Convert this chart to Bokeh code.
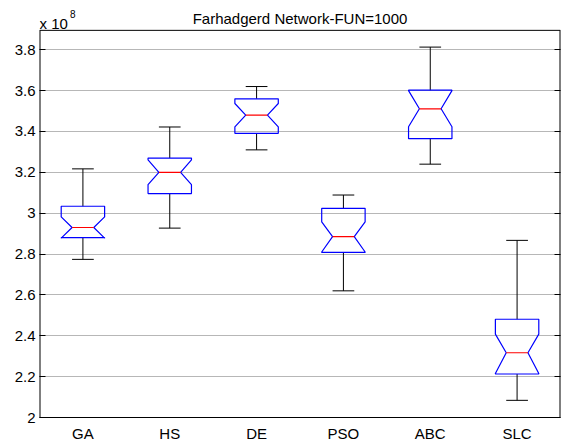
from bokeh.plotting import figure
from bokeh.models import Range1d, LinearAxis, FixedTicker, Label, Grid, CustomJSTickFormatter
from bokeh.embed import file_html
from bokeh.resources import INLINE

# values in units of 1e8
categories = ["GA", "HS", "DE", "PSO", "ABC", "SLC"]
lower_whisker = [2.774, 2.927, 3.310, 2.620, 3.240, 2.084]
q1 = [2.880, 3.096, 3.391, 2.808, 3.365, 2.213]
median = [2.930, 3.200, 3.480, 2.885, 3.511, 2.317]
q3 = [3.034, 3.270, 3.560, 3.024, 3.602, 2.481]
upper_whisker = [3.217, 3.422, 3.620, 3.089, 3.813, 2.867]
notch_lo = [2.878, 3.140, 3.423, 2.810, 3.423, 2.215]
notch_hi = [2.982, 3.261, 3.537, 2.958, 3.600, 2.408]
y_ticks = [2.0, 2.2, 2.4, 2.6, 2.8, 3.0, 3.2, 3.4, 3.6, 3.8]
y_tick_labels = ["2", "2.2", "2.4", "2.6", "2.8", "3", "3.2", "3.4", "3.6", "3.8"]
title_text = "Farhadgerd Network-FUN=1000"

FONT = "Liberation Sans"
W, H = 566, 444
X0, X1 = 0.5, 6.5          # axes x limits
Y0, Y1 = 2.0, 3.895        # axes y limits
AX_TOP_PX = 30             # space above the axes box (title area)
BOTTOM_PX = 25
k = (H - BOTTOM_PX - AX_TOP_PX) / (Y1 - Y0)   # px per data unit (y)
y_top = Y1 + AX_TOP_PX / k                  # the frame also covers the title strip
kx = (W - 39 - 6) / (X1 - X0)

p = figure(width=W, height=H, output_backend="svg", toolbar_location=None,
           x_range=Range1d(X0, X1), y_range=Range1d(Y0, y_top),
           min_border_left=39, min_border_right=6, min_border_top=0,
           min_border_bottom=BOTTOM_PX, background_fill_color="white",
           border_fill_color="white", x_axis_location=None, y_axis_location=None)
p.outline_line_color = None
p.xgrid.visible = False
p.ygrid.visible = False

xs = list(range(1, len(categories) + 1))
bw, nw = 0.25, 0.125

left = LinearAxis(ticker=FixedTicker(ticks=y_ticks),
                  major_label_overrides={t: l for t, l in zip(y_ticks, y_tick_labels)},
                  major_tick_in=6, major_tick_out=0, minor_tick_line_color=None,
                  major_tick_line_color="black",
                  major_label_text_font=FONT, major_label_text_font_size="15px",
                  major_label_text_color="black", major_label_standoff=4,
                  axis_line_color=None)
p.add_layout(left, "left")
right = LinearAxis(ticker=FixedTicker(ticks=y_ticks), major_tick_in=6, major_tick_out=0,
                   minor_tick_line_color=None, major_tick_line_color="black",
                   formatter=CustomJSTickFormatter(code="return '';"),
                   major_label_standoff=0, axis_line_color=None)
p.add_layout(right, "right")
bottom = LinearAxis(ticker=FixedTicker(ticks=xs),
                    major_label_overrides={x: c for x, c in zip(xs, categories)},
                    major_tick_in=0, major_tick_out=0, minor_tick_line_color=None,
                    major_label_text_font=FONT, major_label_text_font_size="15px",
                    major_label_text_color="black", major_label_standoff=7,
                    axis_line_color="black")
p.add_layout(bottom, "below")
g = Grid(dimension=1, ticker=FixedTicker(ticks=y_ticks[1:]), grid_line_color="#6e6e6e",
         grid_line_dash="1 1", grid_line_width=1)
p.add_layout(g)

# axes box (left/right edges sit on the frame edge, so a 2px line shows 1px)
p.segment(x0=[X0, X1], y0=[Y0, Y0], x1=[X0, X1], y1=[Y1, Y1], line_color="black", line_width=2)
p.segment(x0=[X0], y0=[Y1], x1=[X1], y1=[Y1], line_color="black", line_width=1)

# whiskers
p.segment(x0=xs, y0=q3, x1=xs, y1=upper_whisker, line_color="black", line_width=1)
p.segment(x0=xs, y0=lower_whisker, x1=xs, y1=q1, line_color="black", line_width=1)
p.segment(x0=[x - nw for x in xs], y0=upper_whisker, x1=[x + nw for x in xs],
          y1=upper_whisker, line_color="black", line_width=1)
p.segment(x0=[x - nw for x in xs], y0=lower_whisker, x1=[x + nw for x in xs],
          y1=lower_whisker, line_color="black", line_width=1)

# notched boxes
pxs, pys = [], []
for x, a, nl, m, nh, b in zip(xs, q1, notch_lo, median, notch_hi, q3):
    pxs.append([x - bw, x - bw, x - nw, x - bw, x - bw, x + bw, x + bw, x + nw, x + bw, x + bw])
    pys.append([a, nl, m, nh, b, b, nh, m, nl, a])
p.patches(pxs, pys, fill_color=None, line_color="#0000ff", line_width=1.2)

# medians
p.segment(x0=[x - nw for x in xs], y0=median, x1=[x + nw for x in xs], y1=median,
          line_color="#ff0000", line_width=1.2)

# title and exponent note (inside the frame's top strip)
p.add_layout(Label(x=(X0 + X1) / 2, y=Y1 + 11.5 / k, text=title_text, text_font=FONT,
                   text_font_size="15px", text_align="center",
                   text_baseline="alphabetic", text_color="black"))
p.add_layout(Label(x=X0, y=Y1 + 7 / k, text="x 10", text_font=FONT,
                   text_font_size="15px", text_align="left",
                   text_baseline="alphabetic", text_color="black"))
p.add_layout(Label(x=X0 + 30.5 / kx, y=Y1 + 16.5 / k, text="8", text_font=FONT,
                   text_font_size="10px", text_align="left",
                   text_baseline="alphabetic", text_color="black"))

open("out.html", "w").write(file_html(p, INLINE))
